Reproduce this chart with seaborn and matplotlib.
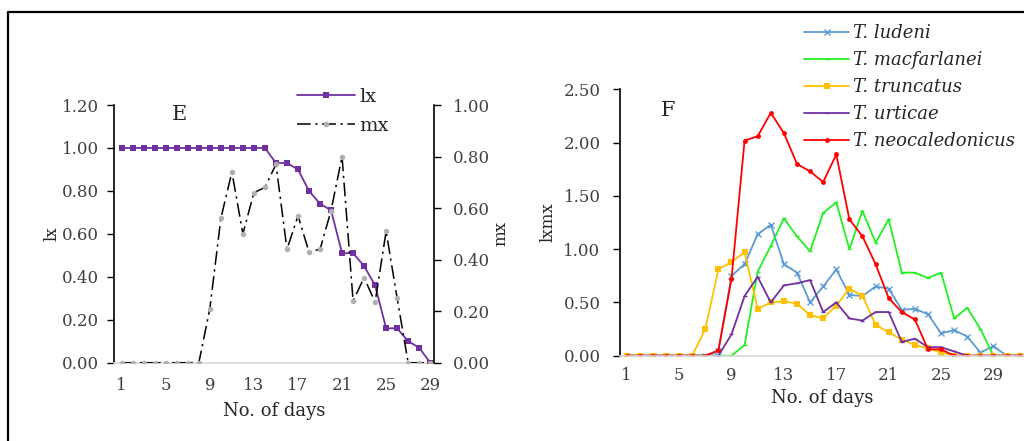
import matplotlib
matplotlib.use("Agg")
import matplotlib.pyplot as plt
import seaborn as sns
import pandas as pd
from matplotlib.lines import Line2D

# ---------------- data ----------------
days_e = list(range(1, 30))
lx = [1.00, 1.00, 1.00, 1.00, 1.00, 1.00, 1.00, 1.00, 1.00, 1.00, 1.00, 1.00, 1.00, 1.00,
      0.93, 0.93, 0.90, 0.80, 0.74, 0.71, 0.51, 0.51, 0.45, 0.36, 0.16, 0.16, 0.10, 0.07, 0.00]
mx = [0.00, 0.00, 0.00, 0.00, 0.00, 0.00, 0.00, 0.00, 0.21, 0.56, 0.74, 0.50, 0.66, 0.68,
      0.77, 0.44, 0.57, 0.43, 0.44, 0.59, 0.80, 0.24, 0.33, 0.235, 0.51, 0.25, 0.00, 0.00, 0.00]

days_f = list(range(1, 32))
ludeni = [0, 0, 0, 0, 0, 0, 0, 0.04, 0.75, 0.86, 1.14, 1.23, 0.86, 0.78, 0.50, 0.65, 0.81,
          0.57, 0.56, 0.65, 0.63, 0.43, 0.44, 0.39, 0.21, 0.24, 0.18, 0.03, 0.09, 0, 0]
macfarlanei = [0, 0, 0, 0, 0, 0, 0, 0, 0, 0.10, 0.79, 1.03, 1.29, 1.12, 0.98, 1.34, 1.44,
               1.00, 1.36, 1.06, 1.28, 0.78, 0.78, 0.73, 0.78, 0.35, 0.45, 0.25, 0, 0, 0]
truncatus = [0, 0, 0, 0, 0, 0, 0.25, 0.81, 0.88, 0.97, 0.44, 0.50, 0.51, 0.49, 0.38, 0.35,
             0.47, 0.63, 0.56, 0.29, 0.22, 0.15, 0.10, 0.07, 0.03, 0, 0, 0, 0, 0, 0]
urticae = [0, 0, 0, 0, 0, 0, 0, 0, 0.20, 0.56, 0.74, 0.50, 0.66, 0.68, 0.71, 0.41, 0.50,
           0.35, 0.33, 0.41, 0.41, 0.13, 0.16, 0.08, 0.08, 0.04, 0, 0, 0, 0, 0]
neocaledonicus = [0, 0, 0, 0, 0, 0, 0, 0.05, 0.72, 2.02, 2.06, 2.28, 2.09, 1.80, 1.73, 1.63,
                  1.89, 1.28, 1.12, 0.86, 0.54, 0.41, 0.34, 0.06, 0.06, 0, 0, 0, 0, 0, 0]

species = ["T. ludeni", "T. macfarlanei", "T. truncatus", "T. urticae", "T. neocaledonicus"]
xticks = [1, 5, 9, 13, 17, 21, 25, 29]

# ---------------- style ----------------
sns.set_theme(style="white")
plt.rcParams["font.family"] = ["DejaVu Serif"]
TICKC = "#404040"

W, H = 1024, 441
fig = plt.figure(figsize=(W / 100, H / 100), dpi=100)

def fx(px):
    return px / W

def fy(py):
    return 1 - py / H

# outer frame (partially visible)
fig.add_artist(Line2D([fx(8), fx(8), 1.01], [-0.01, fy(12), fy(12)],
                      transform=fig.transFigure, color="black", lw=1.6))

# ---------------- panel E ----------------
ax1 = fig.add_axes([fx(114), fy(362.7), fx(433.5) - fx(114), fy(105) - fy(362.7)])
ax1.set_facecolor("none")
sns.lineplot(x=days_e, y=lx, ax=ax1, color="#7030a0", lw=1.3, marker="s",
             markersize=4, markeredgewidth=0, zorder=3)
h_lx = ax1.lines[-1]
ax2 = ax1.twinx()
sns.lineplot(x=days_e, y=mx, ax=ax2, color="black", lw=1.1, marker="o",
             markersize=3.2, markerfacecolor="#b0b0b0", markeredgecolor="#b0b0b0",
             dashes=False)
h_mx = ax2.lines[-1]
h_mx.set_dashes([9, 3, 1.5, 3])

ax1.set_xlim(0.3, 29.3)
ax1.set_ylim(0, 1.2)
ax2.set_ylim(0, 1.0)
ax1.set_yticks([0, 0.2, 0.4, 0.6, 0.8, 1.0, 1.2])
ax2.set_yticks([0, 0.2, 0.4, 0.6, 0.8, 1.0])
ax1.set_xticks(xticks)
ax1.yaxis.set_major_formatter(matplotlib.ticker.FormatStrFormatter("%.2f"))
ax2.yaxis.set_major_formatter(matplotlib.ticker.FormatStrFormatter("%.2f"))

for a in (ax1, ax2):
    for s in a.spines.values():
        s.set_visible(False)
ax1.spines["left"].set_visible(True)
ax1.spines["left"].set_color("black")
ax1.spines["left"].set_linewidth(1.2)
ax1.spines["bottom"].set_visible(True)
ax1.spines["bottom"].set_color("#d9d9d9")
ax1.spines["bottom"].set_linewidth(1.2)
ax2.spines["right"].set_visible(True)
ax2.spines["right"].set_color("black")
ax2.spines["right"].set_linewidth(1.2)

ax1.tick_params(axis="y", which="both", left=True, length=5, width=1, color="black",
                direction="out", labelsize=12, labelcolor=TICKC, pad=6)
ax2.tick_params(axis="y", which="both", right=True, length=5, width=1, color="black",
                direction="out", labelsize=12, labelcolor=TICKC, pad=9)
ax1.tick_params(axis="x", length=0, labelsize=12, labelcolor=TICKC, pad=10)

ax1.set_ylabel("lx", fontsize=12, labelpad=1)
ax2.set_ylabel("mx", fontsize=12, labelpad=2)
ax1.set_xlabel("No. of days", fontsize=13, labelpad=6)
ax1.grid(False)
ax2.grid(False)

fig.text(fx(179), fy(114), "E", fontsize=15, ha="center", va="center")

fig.legend([h_lx, h_mx], ["lx", "mx"], loc="upper left",
           bbox_to_anchor=(fx(297), fy(88)), frameon=False, fontsize=14,
           handlelength=3.0, handletextpad=0.2, labelspacing=0.55, borderpad=0,
           borderaxespad=0)

# ---------------- panel F ----------------
ax3 = fig.add_axes([fx(620), fy(355.7), 1 - fx(620), fy(89.4) - fy(355.7)])
series = [ludeni, macfarlanei, truncatus, urticae, neocaledonicus]
colors = ["#5b9bd5", "#22ee22", "#ffc000", "#7030a0", "#ff0000"]
markers = ["x", "_", "s", "_", "o"]
msizes = [4.5, 3, 4, 3, 3.5]
handles = []
for vals, c, m, ms in zip(series, colors, markers, msizes):
    sns.lineplot(x=days_f, y=vals, ax=ax3, color=c, lw=1.3, marker=m, markersize=ms,
                 markeredgewidth=1 if m in ("x", "_") else 0, markeredgecolor=c,
                 clip_on=True)
    handles.append(ax3.lines[-1])

ax3.set_xlim(0.49, 31.33)
ax3.set_ylim(0, 2.5)
ax3.set_yticks([0, 0.5, 1.0, 1.5, 2.0, 2.5])
ax3.set_xticks(xticks)
ax3.yaxis.set_major_formatter(matplotlib.ticker.FormatStrFormatter("%.2f"))
for s in ax3.spines.values():
    s.set_visible(False)
ax3.spines["left"].set_visible(True)
ax3.spines["left"].set_color("black")
ax3.spines["left"].set_linewidth(1.2)
ax3.spines["bottom"].set_visible(True)
ax3.spines["bottom"].set_color("#d9d9d9")
ax3.spines["bottom"].set_linewidth(1.2)
ax3.tick_params(axis="y", left=True, length=5, width=1, color="black", direction="out",
                labelsize=12, labelcolor=TICKC, pad=9)
ax3.tick_params(axis="x", length=0, labelsize=12, labelcolor=TICKC, pad=8)
ax3.set_ylabel("lxmx", fontsize=12, labelpad=5)
ax3.set_xlabel("No. of days", fontsize=13, labelpad=4)
ax3.grid(False)

fig.text(fx(668), fy(110), "F", fontsize=15, ha="center", va="center")

fig.legend(handles, species, loc="upper left", bbox_to_anchor=(fx(804), fy(24)),
           frameon=False, prop={"style": "italic", "size": 13},
           handlelength=2.5, handletextpad=0.2, labelspacing=0.5, borderpad=0,
           borderaxespad=0)

fig.savefig("out.png", dpi=100)
